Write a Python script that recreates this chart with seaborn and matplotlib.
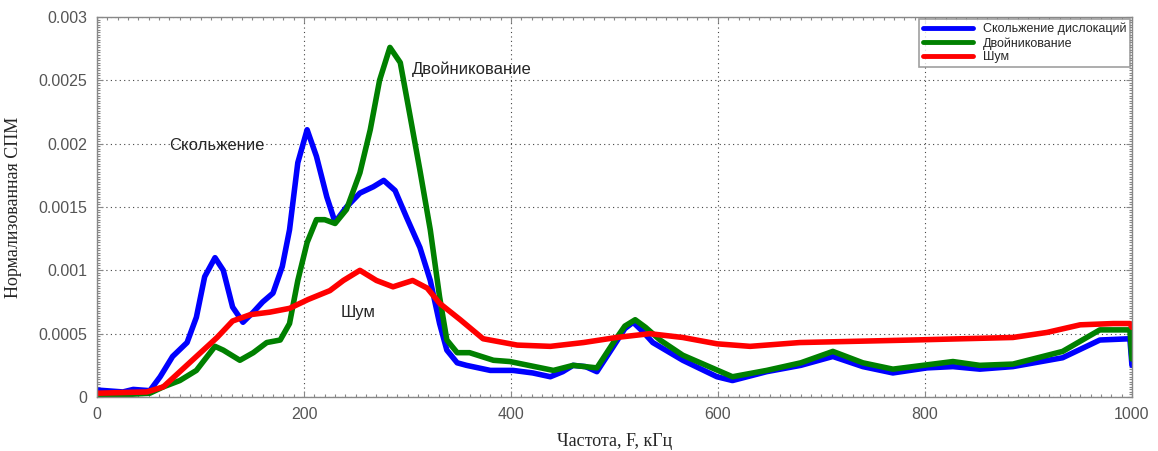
import pandas as pd
import matplotlib.pyplot as plt
import matplotlib.ticker as mticker
import seaborn as sns

# Скольжение дислокаций (blue)
slip_f = [0, 25, 35, 51, 61, 73, 87, 96, 104, 114, 122, 131, 141, 151, 160, 170, 179, 186,
          194, 203, 212, 222, 230, 241, 254, 267, 277, 288, 299, 312, 322, 331, 338, 348,
          357, 380, 402, 421, 438, 450, 460, 472, 483, 499, 510, 518, 527, 537, 566, 599,
          614, 647, 680, 711, 740, 769, 802, 827, 853, 885, 933, 969, 998, 1000]
slip_p = [0.000055, 0.00004, 0.00006, 0.00005, 0.00016, 0.00032, 0.00043, 0.00063, 0.00095,
          0.0011, 0.001, 0.00071, 0.00059, 0.00067, 0.00075, 0.00082, 0.00103, 0.00132,
          0.00185, 0.00211, 0.0019, 0.00158, 0.00138, 0.0015, 0.00161, 0.00166, 0.00171,
          0.00163, 0.00142, 0.00118, 0.00092, 0.00058, 0.00037, 0.00027, 0.00025, 0.00021,
          0.00021, 0.00019, 0.00016, 0.0002, 0.00025, 0.00024, 0.0002, 0.0004, 0.00054,
          0.00059, 0.00052, 0.00043, 0.00029, 0.00016, 0.00013, 0.0002, 0.00025, 0.00032,
          0.00024, 0.00019, 0.00023, 0.00024, 0.00022, 0.00024, 0.00031, 0.00045, 0.00046,
          0.00025]

# Двойникование (green)
twin_f = [0, 30, 51, 64, 80, 96, 114, 122, 138, 151, 164, 177, 186, 194, 203, 212, 220, 230,
          241, 254, 264, 273, 283, 293, 302, 312, 322, 331, 338, 348, 360, 383, 399, 441,
          460, 483, 499, 510, 520, 530, 544, 566, 614, 647, 680, 711, 740, 769, 827, 853,
          885, 933, 969, 998, 1000]
twin_p = [0.00002, 0.00002, 0.00003, 0.00008, 0.00013, 0.00021, 0.0004, 0.00037, 0.00029,
          0.00035, 0.00043, 0.00045, 0.00058, 0.00092, 0.00122, 0.0014, 0.0014, 0.00137,
          0.00148, 0.00177, 0.00211, 0.0025, 0.00276, 0.00264, 0.00224, 0.00179, 0.00132,
          0.00079, 0.00045, 0.00035, 0.00035, 0.00029, 0.00028, 0.00021, 0.00025, 0.00023,
          0.00043, 0.00056, 0.00061, 0.00055, 0.00045, 0.00033, 0.00016, 0.00021, 0.00027,
          0.00036, 0.00027, 0.00022, 0.00028, 0.00025, 0.00026, 0.00036, 0.00053, 0.00053,
          0.0003]

# Шум (red)
noise_f = [0, 48, 64, 80, 100, 116, 131, 148, 167, 186, 204, 225, 238, 254, 270, 286, 305,
           319, 331, 351, 373, 406, 438, 470, 502, 534, 566, 599, 631, 679, 788, 885, 918,
           950, 982, 998, 1000]
noise_p = [0.00003, 0.00004, 0.00008, 0.0002, 0.00035, 0.00047, 0.0006, 0.00065, 0.00067,
           0.0007, 0.00077, 0.00084, 0.00092, 0.001, 0.00092, 0.00087, 0.00092, 0.00086,
           0.00074, 0.00061, 0.00046, 0.00041, 0.0004, 0.00043, 0.00047, 0.0005, 0.00047,
           0.00042, 0.0004, 0.00043, 0.00045, 0.00047, 0.00051, 0.00057, 0.00058, 0.00058,
           0.00055]

labels = ["Скольжение дислокаций", "Двойникование", "Шум"]
colors = ["#0000ff", "#008000", "#ff0000"]

df = pd.concat([
    pd.DataFrame({"f": slip_f, "p": slip_p, "series": labels[0]}),
    pd.DataFrame({"f": twin_f, "p": twin_p, "series": labels[1]}),
    pd.DataFrame({"f": noise_f, "p": noise_p, "series": labels[2]}),
])

sns.set_style("white")
plt.rcParams["font.family"] = ["Liberation Sans", "DejaVu Sans"]

fig = plt.figure(figsize=(11.58, 4.51), dpi=100)
ax = fig.add_axes([0.0838, 0.1197, 0.8937, 0.8426])

sns.lineplot(data=df, x="f", y="p", hue="series", palette=dict(zip(labels, colors)),
             linewidth=4.0, ax=ax, estimator=None, sort=True,
             solid_joinstyle="round", solid_capstyle="round")

ax.set_xlim(0, 1000)
ax.set_ylim(0, 0.003)
ax.xaxis.set_major_locator(mticker.MultipleLocator(200))
ax.xaxis.set_minor_locator(mticker.MultipleLocator(10))
ax.yaxis.set_major_locator(mticker.MultipleLocator(0.0005))
ax.yaxis.set_minor_locator(mticker.MultipleLocator(0.00002))
ax.yaxis.set_major_formatter(mticker.FuncFormatter(lambda v, p: "0" if v == 0 else f"{v:g}"))
ax.tick_params(which="both", direction="in", bottom=True, left=True, top=True, right=True,
               colors="#888888", labelcolor="#555555", labelsize=11.5)
ax.tick_params(which="major", length=4, pad=7)
ax.tick_params(which="minor", length=2.5, width=0.8)
ax.grid(True, which="major", linestyle=(0, (1, 3)), color="#444444", linewidth=0.8)
for s in ax.spines.values():
    s.set_color("#888888")
    s.set_linewidth(1.0)

ax.set_xlabel("Частота, F, кГц", family=["Liberation Serif"], fontsize=13, labelpad=8)
ax.set_ylabel("Нормализованная СПМ", family=["Liberation Serif"], fontsize=13, labelpad=12)

ax.text(70, 0.00195, "Скольжение", fontsize=12)
ax.text(304, 0.00255, "Двойникование", fontsize=12)
ax.text(235, 0.00063, "Шум", fontsize=12)

leg = ax.legend(loc="upper right", fontsize=9, frameon=True, fancybox=False,
                handlelength=4.0, handletextpad=0.8, borderpad=0.3, labelspacing=0.15,
                borderaxespad=0.15)
leg.get_frame().set_edgecolor("#888888")
leg.get_frame().set_linewidth(1.2)
for line in leg.get_lines():
    line.set_linewidth(3.5)

fig.savefig("out.png", dpi=100)
